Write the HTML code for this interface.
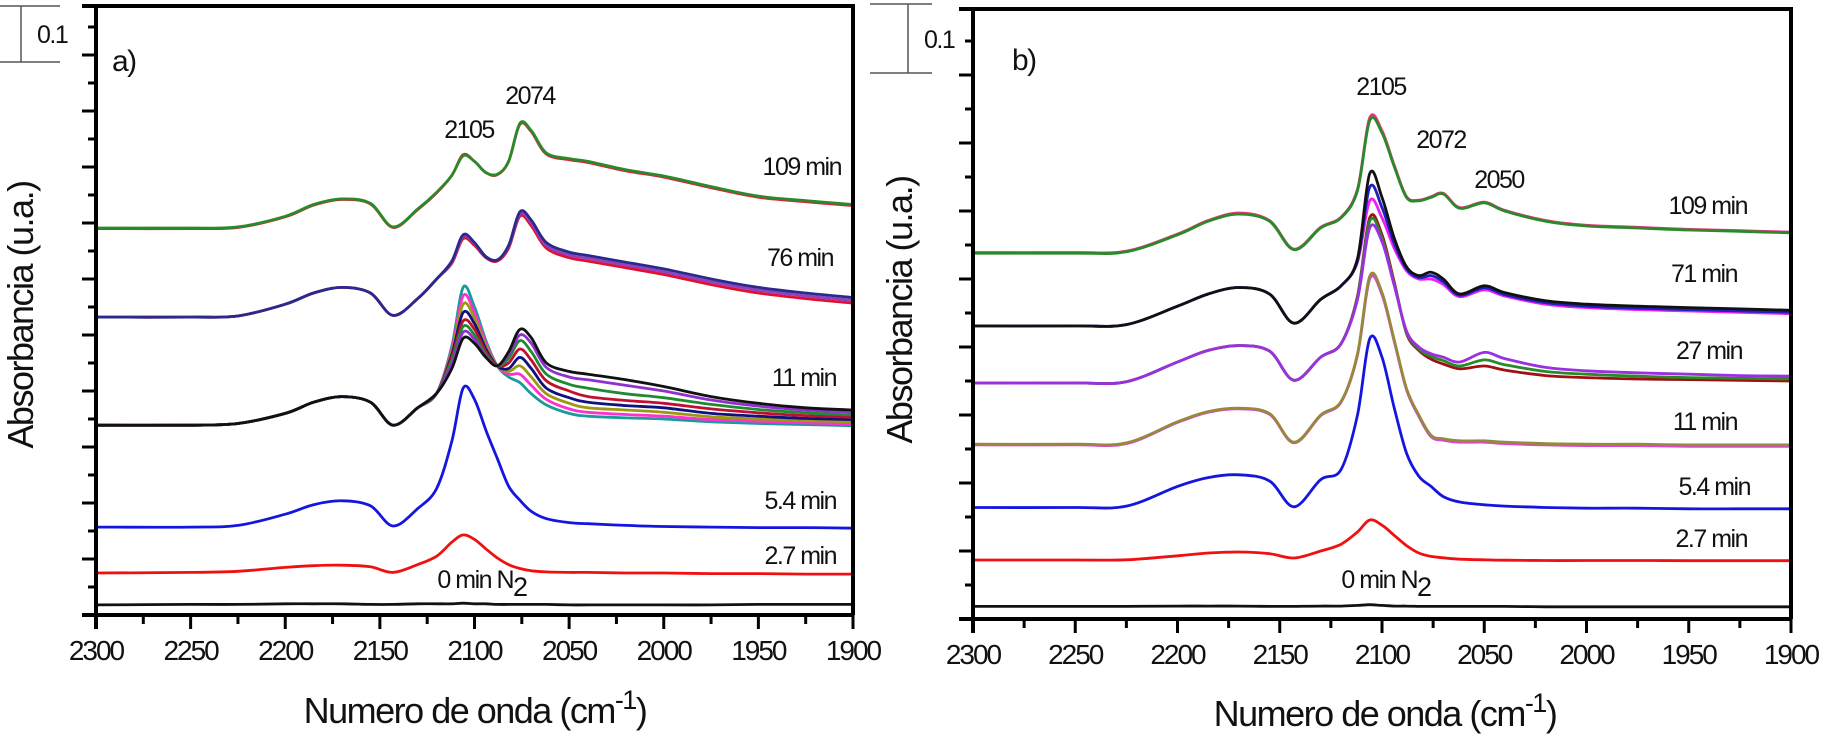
<!DOCTYPE html>
<html><head><meta charset="utf-8"><style>
body{margin:0;background:#fff}
svg{display:block;font-family:"Liberation Sans",sans-serif}
.t{font-size:25px;letter-spacing:-1.5px;fill:#111}
.tk{font-size:28px;letter-spacing:-2px;fill:#111}
.ti{font-size:36px;letter-spacing:-1.5px;fill:#111}
</style></head><body>
<svg id="fig" width="1824" height="740" viewBox="0 0 1824 740">
<g id="pa"></g>
<g id="pb"></g>
</svg>
<script>
const NS="http://www.w3.org/2000/svg";
const wavenumbers=[2300,2250,2225,2200,2185,2170,2155,2143,2130,2120,2112,2106,2100,2094,2088,2082,2076,2070,2062,2050,2040,2020,2000,1975,1950,1925,1900];
const xTicks=[2300,2250,2200,2150,2100,2050,2000,1950,1900];

// Panel a series
const a0=[.018,.019,.019,.02,.02,.02,.019,.019,.02,.02,.02,.021,.02,.02,.019,.019,.019,.019,.019,.018,.018,.018,.018,.018,.019,.019,.019];
const a27=[.075,.076,.078,.085,.088,.089,.086,.076,.09,.105,.13,.143,.135,.118,.102,.09,.083,.079,.077,.076,.076,.075,.075,.074,.074,.073,.073];
const a54=[.157,.157,.16,.18,.197,.204,.195,.159,.19,.226,.31,.405,.385,.33,.28,.23,.205,.185,.172,.165,.163,.16,.158,.157,.156,.156,.155];
const a11teal=[.339,.339,.342,.36,.38,.39,.38,.339,.37,.396,.48,.585,.55,.49,.445,.425,.415,.395,.375,.36,.355,.352,.35,.345,.342,.34,.338];
const a11mag=[.339,.339,.342,.36,.38,.39,.38,.339,.37,.396,.475,.57,.54,.485,.445,.43,.43,.41,.385,.368,.362,.358,.355,.349,.346,.343,.341];
const a11olive=[.339,.339,.342,.36,.38,.39,.38,.339,.37,.396,.47,.555,.53,.48,.445,.435,.445,.425,.395,.378,.37,.366,.362,.354,.35,.347,.345];
const a11navy=[.339,.339,.342,.36,.38,.39,.38,.339,.37,.396,.465,.54,.52,.475,.445,.44,.46,.44,.405,.388,.38,.374,.37,.36,.355,.351,.349];
const a11red=[.339,.339,.342,.36,.38,.39,.38,.339,.37,.396,.46,.525,.51,.47,.445,.45,.475,.455,.418,.4,.39,.383,.378,.368,.361,.356,.353];
const a11green=[.339,.339,.342,.36,.38,.39,.38,.339,.37,.396,.455,.515,.5,.465,.445,.458,.49,.47,.43,.412,.405,.395,.388,.376,.367,.361,.357];
const a11purple=[.339,.339,.342,.36,.38,.39,.38,.339,.37,.396,.448,.505,.492,.462,.445,.465,.5,.485,.442,.425,.42,.41,.4,.384,.373,.366,.362];
const a11black=[.339,.339,.342,.36,.38,.39,.38,.339,.37,.396,.44,.494,.485,.46,.445,.47,.51,.495,.45,.435,.43,.42,.408,.39,.378,.37,.366];
const a76red=[.532,.532,.534,.555,.575,.585,.575,.535,.565,.6,.628,.672,.66,.638,.632,.655,.712,.695,.655,.638,.632,.62,.608,.59,.575,.565,.557];
const a76purple=[.532,.532,.534,.555,.575,.585,.575,.535,.565,.6,.63,.676,.663,.64,.634,.658,.716,.7,.66,.643,.637,.625,.613,.595,.58,.57,.562];
const a76navy=[.532,.532,.534,.555,.575,.585,.575,.535,.565,.6,.632,.679,.665,.64,.634,.66,.72,.705,.665,.648,.642,.63,.618,.6,.585,.575,.567];
const a109red=[.69,.69,.692,.711,.732,.742,.734,.692,.724,.754,.785,.822,.81,.79,.786,.81,.876,.863,.823,.813,.808,.793,.782,.763,.746,.738,.731];
const a109green=[.691,.691,.693,.712,.733,.743,.735,.693,.725,.755,.785,.82,.81,.79,.787,.81,.878,.865,.825,.815,.81,.795,.784,.765,.748,.74,.733];

// Panel b series
const b0=[.0186,.0186,.0186,.019,.019,.019,.0186,.0186,.019,.019,.02,.021,.02,.019,.019,.0186,.0186,.0186,.0186,.0186,.0186,.018,.018,.018,.018,.018,.018];
const b27=[.0868,.0868,.087,.093,.097,.0985,.096,.0897,.1,.11,.128,.1456,.138,.123,.108,.097,.092,.09,.088,.087,.0865,.086,.086,.086,.0858,.0857,.0857];
const b54=[.164,.164,.166,.195,.208,.212,.203,.165,.205,.22,.3,.412,.385,.31,.244,.21,.195,.18,.172,.168,.166,.164,.163,.163,.162,.162,.162];
const b11mag=[.256,.256,.258,.289,.304,.309,.301,.259,.299,.319,.388,.5,.477,.408,.337,.298,.268,.263,.26,.26,.258,.256,.255,.255,.254,.254,.254];
const b11olive=[.257,.257,.259,.29,.305,.31,.302,.26,.3,.32,.39,.504,.48,.41,.339,.3,.27,.265,.262,.262,.26,.258,.257,.257,.256,.256,.256];
const b27red=[.347,.347,.349,.378,.395,.402,.394,.351,.385,.405,.475,.59,.565,.495,.42,.395,.382,.375,.368,.372,.366,.358,.355,.353,.352,.351,.35];
const b27green=[.347,.347,.349,.378,.395,.402,.394,.351,.385,.405,.473,.585,.56,.492,.422,.397,.386,.38,.372,.381,.374,.364,.36,.357,.355,.354,.353];
const b27purple=[.347,.347,.349,.378,.395,.402,.394,.351,.385,.405,.47,.575,.555,.49,.4235,.4,.39,.385,.378,.392,.383,.37,.365,.362,.36,.358,.357];
const b71mag=[.431,.431,.433,.46,.478,.4875,.478,.435,.47,.49,.525,.615,.59,.545,.512,.5,.5,.492,.474,.484,.475,.463,.458,.455,.453,.451,.449];
const b71blue=[.431,.431,.433,.46,.478,.4875,.478,.435,.47,.49,.527,.635,.605,.552,.515,.502,.505,.496,.476,.487,.477,.465,.46,.457,.455,.453,.451];
const b71black=[.431,.431,.433,.46,.478,.4875,.478,.435,.47,.49,.53,.655,.62,.56,.518,.505,.51,.5,.478,.49,.48,.468,.463,.46,.458,.456,.454];
const b109mag=[.539,.539,.541,.566,.586,.597,.586,.544,.576,.591,.632,.737,.718,.667,.621,.616,.621,.626,.605,.613,.601,.586,.579,.576,.573,.571,.569];
const b109green=[.538,.538,.54,.565,.585,.5955,.585,.543,.575,.59,.63,.733,.715,.665,.62,.615,.62,.625,.604,.612,.6,.585,.578,.575,.572,.57,.568];

function el(parent,tag,attrs,text){const e=document.createElementNS(NS,tag);for(const k in attrs)e.setAttribute(k,attrs[k]);if(text!==undefined)e.textContent=text;parent.appendChild(e);return e;}
function smooth(pts){let d=`M${pts[0][0].toFixed(1)},${pts[0][1].toFixed(1)}`;
 for(let i=0;i<pts.length-1;i++){const p0=pts[Math.max(0,i-1)],p1=pts[i],p2=pts[i+1],p3=pts[Math.min(pts.length-1,i+2)];
  const c1x=p1[0]+(p2[0]-p0[0])/6,c1y=p1[1]+(p2[1]-p0[1])/6,c2x=p2[0]-(p3[0]-p1[0])/6,c2y=p2[1]-(p3[1]-p1[1])/6;
  d+=`C${c1x.toFixed(1)},${c1y.toFixed(1)} ${c2x.toFixed(1)},${c2y.toFixed(1)} ${p2[0].toFixed(1)},${p2[1].toFixed(1)}`;}
 return d;}

function panel(g,cfg){
 const X=w=>cfg.x0+(2300-w)/400*(cfg.x1-cfg.x0);
 const Y=a=>cfg.yb-a*cfg.pxPerUnit;
 cfg.series.forEach(s=>{
  const p=el(g,'path',{d:smooth(wavenumbers.map((w,i)=>[X(w),Y(s.v[i])])),fill:'none',stroke:s.c,'stroke-width':2.8,'stroke-linejoin':'round'});
  
  
 });
 const fr=el(g,'path',{d:`M${cfg.x0-14},${cfg.yt}H${cfg.x1}V${cfg.yb}M${cfg.x0},${cfg.yt}V${cfg.yb+14}M${cfg.x0-14},${cfg.yb}H${cfg.x1+1.5}`,fill:'none',stroke:'#000','stroke-width':4});
 
 
 const step=cfg.pxPerUnit*0.05;
 for(let k=1;cfg.yb-k*step>cfg.yt+3;k++){const y=cfg.yb-k*step;const len=(k%2==0)?14:8;
  const t=el(g,'line',{x1:cfg.x0-len,x2:cfg.x0,y1:y,y2:y,stroke:'#000','stroke-width':3});
  
  }
 for(let w=2300;w>=1900;w-=25){const x=X(w);const maj=(w%50==0);
  const t=el(g,'line',{x1:x,x2:x,y1:cfg.yb,y2:cfg.yb+(maj?14:9),stroke:'#000','stroke-width':3});
  
  }
 xTicks.forEach(w=>{const t=el(g,'text',{x:X(w),y:cfg.yb+45,'text-anchor':'middle',class:'tk'},String(w));
  
  });
 cfg.labels.forEach(l=>{const t=el(g,'text',{x:l[0],y:l[1],'text-anchor':l[3]||'end',class:'t'},l[2]);
  
  });
 const n2=el(g,'text',{x:cfg.n2[0],y:cfg.n2[1],'text-anchor':'middle',class:'t'});
 
 
 n2.innerHTML='0 min N<tspan dy="8" font-size="27">2</tspan>';
 const pl=el(g,'text',{x:cfg.pl[0],y:cfg.pl[1],class:'t'},cfg.pl[2]);
 pl.style.fontSize='30px';
 
 
 const sb=el(g,'path',{d:`M${cfg.sb[0]},${cfg.sb[2]}H${cfg.sb[1]}M${cfg.sb[0]},${cfg.sb[3]}H${cfg.sb[1]}M${cfg.sb[4]},${cfg.sb[2]}V${cfg.sb[3]}`,stroke:'#555','stroke-width':1.5,fill:'none'});
 
 
 const sbl=el(g,'text',{x:cfg.sb[5],y:cfg.sb[6],class:'t'},'0.1');
 
 
 const xt=el(g,'text',{x:cfg.xt[0],y:cfg.xt[1],'text-anchor':'middle',class:'ti'});
 xt.innerHTML='Numero de onda (cm<tspan dy="-14" font-size="27">-1</tspan><tspan dy="14">)</tspan>';
 
 
 const yt=el(g,'text',{x:0,y:0,'text-anchor':'middle',class:'ti',transform:`translate(${cfg.yt2[0]},${cfg.yt2[1]}) rotate(-90)`},'Absorbancia (u.a.)');
 
 
}

panel(document.getElementById('pa'),{x0:96,x1:853,yt:6,yb:615,pxPerUnit:560,
 series:[{n:'spectrum-0min',c:'#111',v:a0},{n:'spectrum-2.7min',c:'#f01010',v:a27},{n:'spectrum-5.4min',c:'#1515e0',v:a54},
  {n:'spectrum-11min-teal',c:'#1a9a9a',v:a11teal},{n:'spectrum-11min-magenta',c:'#ff30d0',v:a11mag},{n:'spectrum-11min-olive',c:'#9a9a10',v:a11olive},
  {n:'spectrum-11min-navy',c:'#101080',v:a11navy},{n:'spectrum-11min-red',c:'#c01030',v:a11red},{n:'spectrum-11min-green',c:'#208a30',v:a11green},
  {n:'spectrum-11min-purple',c:'#9030d0',v:a11purple},{n:'spectrum-11min-black',c:'#111',v:a11black},
  {n:'spectrum-76min-red',c:'#e01030',v:a76red},{n:'spectrum-76min-purple',c:'#9040c0',v:a76purple},{n:'spectrum-76min-navy',c:'#2a2a8a',v:a76navy},
  {n:'spectrum-109min-red',c:'#e02040',v:a109red},{n:'spectrum-109min-green',c:'#2a8a2a',v:a109green}],
 labels:[[841,175,'109 min'],[833,266,'76 min'],[836,386,'11 min'],[836,509,'5.4 min'],[836,564,'2.7 min'],[469,138,'2105','middle'],[530,104,'2074','middle']],
 n2:[482,588],pl:[112,71,'a)'],sb:[0,60,6,62,21,37,43],xt:[475,723],yt2:[33,315]});

panel(document.getElementById('pb'),{x0:973,x1:1791,yt:9,yb:619,pxPerUnit:680,
 series:[{n:'spectrum-0min',c:'#111',v:b0},{n:'spectrum-2.7min',c:'#f01010',v:b27},{n:'spectrum-5.4min',c:'#1515e0',v:b54},
  {n:'spectrum-11min-magenta',c:'#e040e0',v:b11mag},{n:'spectrum-11min-olive',c:'#958a3a',v:b11olive},
  {n:'spectrum-27min-red',c:'#a01010',v:b27red},{n:'spectrum-27min-green',c:'#2a8a2a',v:b27green},{n:'spectrum-27min-purple',c:'#9a30e0',v:b27purple},
  {n:'spectrum-71min-magenta',c:'#f020f0',v:b71mag},{n:'spectrum-71min-blue',c:'#2020c0',v:b71blue},{n:'spectrum-71min-black',c:'#111',v:b71black},
  {n:'spectrum-109min-magenta',c:'#f03080',v:b109mag},{n:'spectrum-109min-green',c:'#2a8a2a',v:b109green}],
 labels:[[1747,214,'109 min'],[1737,282,'71 min'],[1742,359,'27 min'],[1737,430,'11 min'],[1750,495,'5.4 min'],[1747,547,'2.7 min'],[1381,95,'2105','middle'],[1441,148,'2072','middle'],[1499,188,'2050','middle']],
 n2:[1386,588],pl:[1012,70,'b)'],sb:[870,932,4,73,908,924,48],xt:[1385,726],yt2:[912,310]});
</script>
</body></html>
